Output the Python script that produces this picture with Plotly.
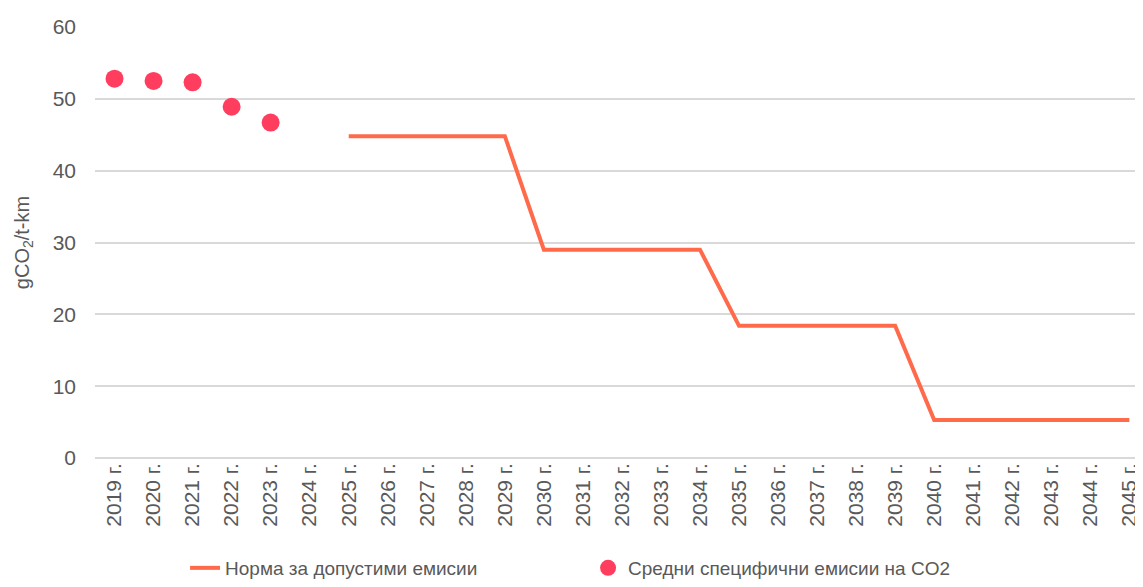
import plotly.graph_objects as go

# categories and values
years = [f"{y} г." for y in range(2019, 2046)]

norm_years = [f"{y} г." for y in range(2025, 2046)]
norm_values = [44.8] * 5 + [29.0] * 5 + [18.4] * 5 + [5.3] * 6

avg_years = ["2019 г.", "2020 г.", "2021 г.", "2022 г.", "2023 г."]
avg_values = [52.8, 52.5, 52.3, 48.9, 46.7]

font_family = "Liberation Sans, Arial, sans-serif"
grey = "#595959"

fig = go.Figure()
fig.add_trace(go.Scatter(
    x=norm_years, y=norm_values, mode="lines",
    name="Норма за допустими емисии",
    line=dict(color="#FF6A4B", width=4),
))
fig.add_trace(go.Scatter(
    x=avg_years, y=avg_values, mode="markers",
    name="Средни специфични емисии на CO2",
    marker=dict(color="#FF3D5E", size=18),
))

# the page body has an 8px margin, so the figure is a bit smaller than the window
fig.update_layout(
    width=1135, height=579,
    margin=dict(l=87, r=0, t=19, b=129),
    plot_bgcolor="white", paper_bgcolor="white",
    font=dict(family=font_family, color=grey, size=18),
    showlegend=True,
    legend=dict(
        orientation="h", xref="container", x=0.156, xanchor="left",
        yref="container", y=0.0, yanchor="bottom",
        font=dict(size=19, color=grey), entrywidth=358,
        traceorder="normal",
    ),
    xaxis=dict(
        type="category", categoryorder="array", categoryarray=years,
        tickvals=years, range=[-0.5, 26.35], tickangle=-90,
        showgrid=False, showline=False, ticks="", automargin=False,
        tickfont=dict(size=21, color=grey),
    ),
    yaxis=dict(
        range=[0, 60], dtick=10, showgrid=True, gridcolor="#D9D9D9", gridwidth=1.5,
        zeroline=True, zerolinecolor="#D9D9D9", zerolinewidth=1.5,
        ticks="", ticklabelstandoff=18, automargin=False,
        tickfont=dict(size=21, color=grey),
        title=dict(text="gCO<sub>2</sub>/t-km", font=dict(size=20, color=grey), standoff=17),
    ),
)

fig.write_html("out.html")
